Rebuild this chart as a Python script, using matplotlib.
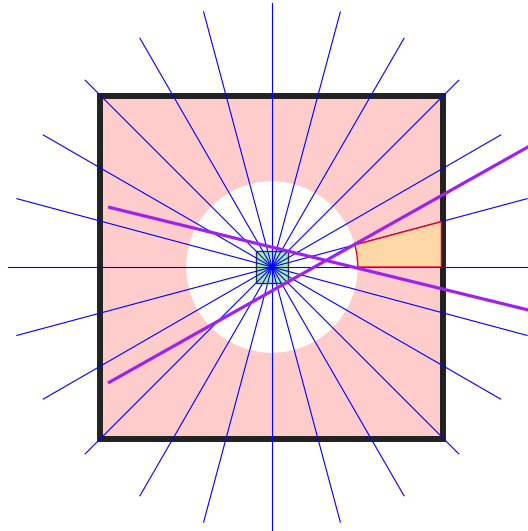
import numpy as np
import matplotlib
matplotlib.use("Agg")
import matplotlib.pyplot as plt
from matplotlib.patches import Rectangle, Circle, Polygon

# geometry in units of the half side of the big square
square_half = 1.0
hole_radius = 0.5
hub_half = 0.094
ray_angles = np.arange(0, 360, 15)
ray_length = 1.54
wedge_angles = (0, 15)

# purple lines: (x0, y0, slope)
line_starts_x = [-0.956, -0.956]
line_starts_y = [0.35, -0.676]
line_slopes = [-0.245, 0.562]
line_end_x = 1.7

fig = plt.figure(figsize=(5.28, 5.31), dpi=100)
ax = fig.add_axes([0, 0, 1, 1])
ax.set_xlim(-1.586, 1.493)
ax.set_ylim(-1.539, 1.557)
ax.axis("off")

ax.add_patch(Rectangle((-square_half, -square_half), 2 * square_half, 2 * square_half,
                       facecolor="#ffcccc", edgecolor="none", zorder=1))
ax.add_patch(Circle((0, 0), hole_radius, facecolor="white", edgecolor="none", zorder=2))

ax.add_patch(Rectangle((-square_half, -square_half), 2 * square_half, 2 * square_half,
                       facecolor="none", edgecolor="#222222", linewidth=4.3, zorder=3))

ax.add_patch(Rectangle((-hub_half, -hub_half), 2 * hub_half, 2 * hub_half,
                       facecolor="#a8f0a8", edgecolor="#333333", linewidth=1.0, zorder=4))

for a in np.radians(ray_angles):
    ax.plot([0, ray_length * np.cos(a)], [0, ray_length * np.sin(a)],
            color="#0000ff", linewidth=0.8, zorder=5)

# wedge between hole and square edge (inner edge of the frame)
a0, a1 = np.radians(wedge_angles)
edge_x = square_half - 0.012
arc = np.linspace(a0, a1, 40)
pts = [(hole_radius * np.cos(t), hole_radius * np.sin(t)) for t in arc]
pts += [(edge_x, edge_x * np.tan(a1)), (edge_x, 0)]
ax.add_patch(Polygon(pts, closed=True, facecolor="#ffd8a8", edgecolor="#e8002a",
                     linewidth=1.0, zorder=5.5))

for x0, y0, m in zip(line_starts_x, line_starts_y, line_slopes):
    ax.plot([x0, line_end_x], [y0, y0 + m * (line_end_x - x0)],
            color="#a020f0", linewidth=2.3, solid_capstyle="butt", zorder=6)

fig.savefig("out.png", dpi=100)
